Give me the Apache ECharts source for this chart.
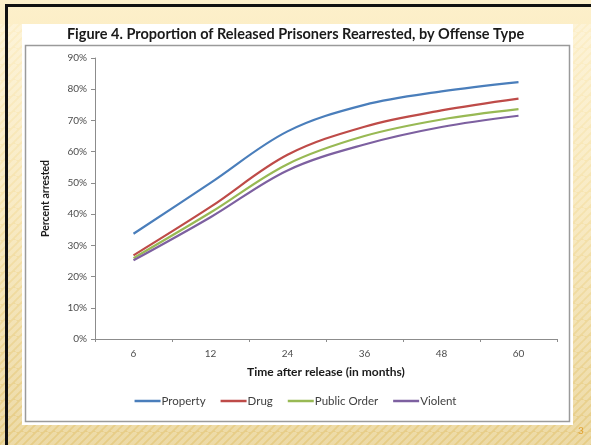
<!DOCTYPE html>
<html>
<head>
<meta charset="utf-8">
<script src="https://cdn.jsdelivr.net/npm/echarts@6/dist/echarts.min.js"></script>
<style>
html,body{margin:0;padding:0;background:#fff;}
#chart{width:591px;height:445px;}
</style>
</head>
<body>
<div id="chart"></div>
<script>
const months = ['6', '12', '24', '36', '48', '60'];
const property = [33.7, 50.0, 66.5, 75.0, 79.3, 82.3];
const drug = [26.8, 42.3, 59.0, 68.0, 73.2, 77.0];
const publicOrder = [25.9, 40.5, 56.0, 65.0, 70.3, 73.6];
const violent = [25.2, 39.0, 54.0, 62.3, 67.9, 71.5];
const seriesNames = ['Property', 'Drug', 'Public Order', 'Violent'];
const seriesColors = ['#4A7EBB', '#BE4B48', '#98B954', '#7D60A0'];
const yTicks = [0, 90, 10];

// stripe pattern for slide background
const pc = document.createElement('canvas');
pc.width = 16; pc.height = 16;
const ctx = pc.getContext('2d');
ctx.strokeStyle = 'rgba(255,255,255,0.28)';
ctx.lineWidth = 4;
for (let k = -16; k <= 32; k += 8) {
  ctx.beginPath(); ctx.moveTo(k, 16); ctx.lineTo(k + 16, 0); ctx.stroke();
}

const chart = echarts.init(document.getElementById('chart'));
const fontFam = 'Lato, "Open Sans", sans-serif';
const dataSets = [property, drug, publicOrder, violent];

chart.setOption({
  animation: false,
  textStyle: { fontFamily: fontFam },
  graphic: [
    { type: 'rect', z: -10, silent: true, shape: { x: 0, y: 0, width: 591, height: 445 },
      style: { fill: new echarts.graphic.LinearGradient(0, 0, 0, 1, [
        { offset: 0, color: '#FDF0CB' }, { offset: 0.45, color: '#F6E3AE' }, { offset: 1, color: '#E6CC85' }]) } },
    { type: 'rect', z: -9, silent: true, shape: { x: 0, y: 24, width: 591, height: 421 },
      style: { fill: { image: pc, repeat: 'repeat' } } },
    { type: 'rect', z: -8, silent: true, shape: { x: 5, y: 4, width: 586, height: 3 }, style: { fill: '#111' } },
    { type: 'rect', z: -8, silent: true, shape: { x: 5, y: 4, width: 3, height: 441 }, style: { fill: '#111' } },
    { type: 'rect', z: -7, silent: true, shape: { x: 22, y: 24, width: 551, height: 401 }, style: { fill: '#FFFFFF' } },
    { type: 'rect', z: -6, silent: true, shape: { x: 25.5, y: 45.5, width: 544, height: 376 },
      style: { fill: 'none', stroke: '#9A9A9A', lineWidth: 1.5 } },
    { type: 'text', z: 10, left: 578, top: 426, style: { text: '3', fill: '#E0A030', font: '10px ' + fontFam } }
  ],
  title: {
    text: 'Figure 4. Proportion of Released Prisoners Rearrested, by Offense Type',
    left: 'center', top: 22,
    textStyle: { fontSize: 14.5, fontWeight: 'bold', color: '#1a1a1a', fontFamily: fontFam }
  },
  legend: {
    data: seriesNames, bottom: 33, left: 'center',
    icon: 'rect', itemWidth: 26, itemHeight: 2.5, itemGap: 15,
    textStyle: { fontSize: 11.5, color: '#404040', padding: [0, 0, 0, -4] }
  },
  grid: { left: 95, right: 34, top: 58, bottom: 106 },
  xAxis: {
    type: 'category', data: months, boundaryGap: true,
    name: 'Time after release (in months)', nameLocation: 'middle', nameGap: 27,
    nameTextStyle: { fontSize: 12, fontWeight: 'bold', color: '#1a1a1a' },
    axisLine: { lineStyle: { color: '#8c8c8c', width: 1 } },
    axisTick: { show: true, length: 3, lineStyle: { color: '#8c8c8c' } },
    axisLabel: { fontSize: 10, color: '#4d4d4d', margin: 10 }
  },
  yAxis: {
    type: 'value', min: yTicks[0], max: yTicks[1], interval: yTicks[2],
    name: 'Percent arrested', nameLocation: 'middle', nameGap: 44, nameRotate: 90,
    nameTextStyle: { fontSize: 10.5, fontWeight: 'bold', color: '#1a1a1a' },
    axisLine: { show: true, lineStyle: { color: '#8c8c8c', width: 1 } },
    axisTick: { show: true, length: 4, lineStyle: { color: '#8c8c8c' } },
    splitLine: { show: false },
    axisLabel: { formatter: '{value}%', fontSize: 10, color: '#4d4d4d', margin: 8 }
  },
  series: seriesNames.map((n, i) => ({
    name: n, type: 'line', data: dataSets[i], smooth: 0.35,
    symbol: 'none', color: seriesColors[i],
    lineStyle: { width: 2.2, color: seriesColors[i] }
  }))
});
</script>
</body>
</html>
